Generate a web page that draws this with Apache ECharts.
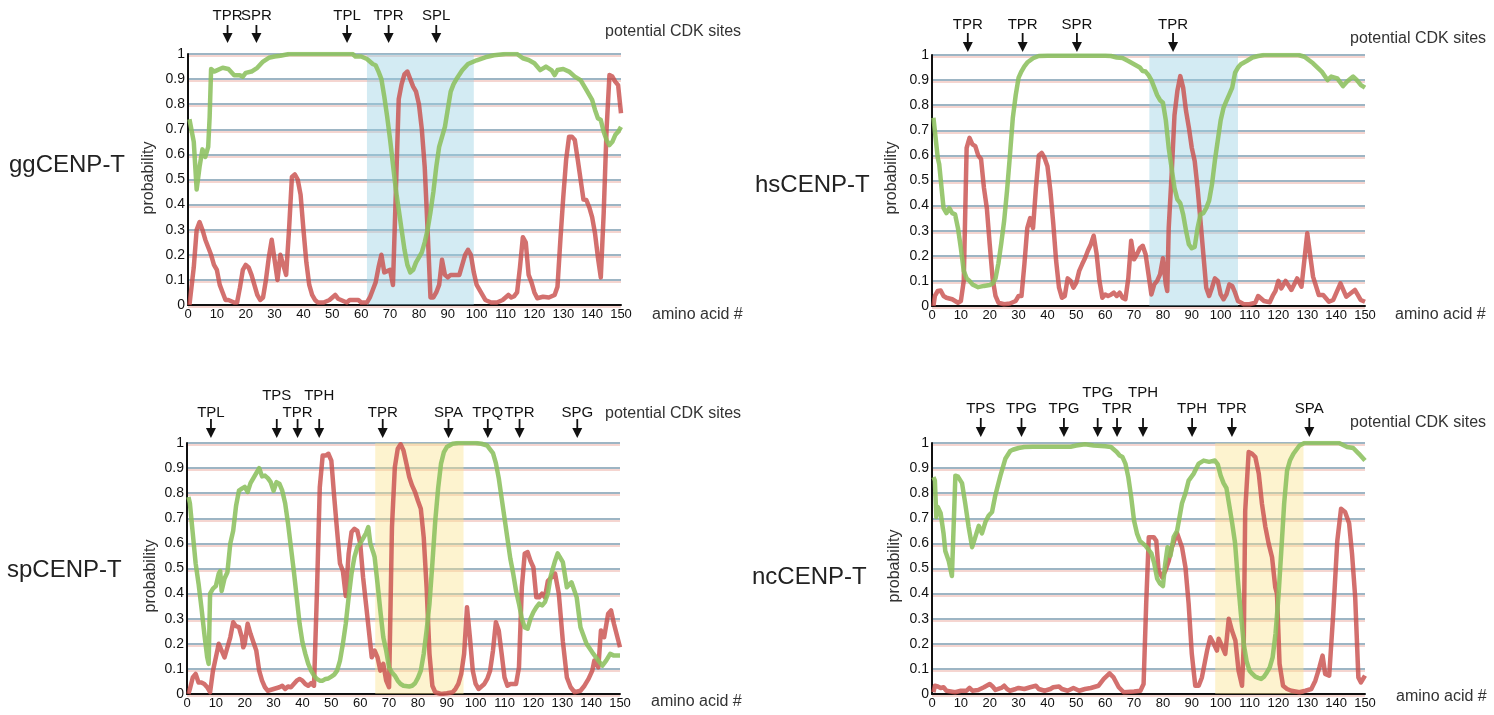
<!DOCTYPE html>
<html>
<head>
<meta charset="utf-8">
<script src="https://cdn.jsdelivr.net/npm/echarts@6/dist/echarts.min.js"></script>
<style>
  html, body { margin: 0; padding: 0; background: #fff; }
  #chart { width: 1494px; height: 715px; }
</style>
</head>
<body>
<div id="chart"></div>
<script>
// ---- values: [amino acid #, probability] ----
const ggGreen = [[0.5,0.74],[1,0.74],[2,0.65],[3,0.46],[4,0.55],[5,0.62],[6,0.59],[7,0.63],[7.5,0.75],[8,0.94],[9,0.93],[10,0.935],[12,0.945],[14,0.94],[16,0.915],[18,0.915],[19,0.91],[20,0.925],[22,0.93],[24,0.945],[26,0.97],[28,0.985],[30,0.99],[32,0.993],[35,1],[57,1],[58,0.99],[60,0.99],[62,0.98],[64,0.96],[65,0.955],[66,0.93],[67,0.9],[68,0.83],[69,0.75],[70,0.66],[71,0.56],[72,0.46],[73,0.38],[74,0.3],[75,0.22],[76,0.16],[77,0.13],[78,0.14],[79,0.17],[80,0.19],[81,0.21],[82,0.25],[83,0.3],[84,0.37],[85,0.45],[86,0.55],[87,0.63],[88,0.67],[89,0.71],[90,0.78],[91,0.85],[92,0.88],[93,0.9],[95,0.935],[97,0.96],[100,0.975],[103,0.987],[106,0.995],[110,1],[114,1],[116,0.983],[118,0.976],[120,0.963],[122,0.936],[124,0.95],[126,0.935],[127,0.916],[128,0.936],[130,0.94],[132,0.93],[134,0.91],[136,0.896],[138,0.857],[140,0.817],[141,0.777],[142,0.744],[143,0.737],[144,0.69],[145,0.657],[146,0.637],[147,0.65],[148,0.677],[149,0.69],[150,0.71]];
const ggRed = [[0.5,0],[1,0],[2,0.15],[3,0.3],[4,0.33],[5,0.3],[6,0.26],[7,0.23],[8,0.2],[9,0.16],[10,0.14],[11,0.08],[12,0.05],[13,0.02],[14,0.02],[16,0.01],[17,0.01],[18,0.07],[19,0.14],[20,0.16],[21,0.15],[22,0.12],[23,0.08],[24,0.04],[25,0.02],[26,0.03],[27,0.1],[28,0.19],[29,0.26],[30,0.18],[31,0.1],[32,0.2],[33,0.16],[34,0.12],[35,0.3],[36,0.51],[37,0.52],[38,0.5],[39,0.44],[40,0.3],[41,0.17],[42,0.08],[43,0.04],[44,0.02],[45,0.01],[47,0.01],[49,0.02],[51,0.04],[52,0.025],[53,0.02],[55,0.01],[56,0.02],[57,0.02],[59,0.02],[60,0.01],[62,0.01],[63,0.03],[64,0.06],[65,0.09],[66,0.15],[67,0.2],[68,0.13],[69,0.135],[70,0.14],[71,0.08],[72,0.45],[73,0.82],[74,0.88],[75,0.92],[76,0.93],[77,0.9],[78,0.87],[79,0.85],[80,0.8],[81,0.7],[82,0.55],[83,0.3],[84,0.03],[85,0.03],[86,0.05],[87,0.08],[88,0.18],[89,0.12],[90,0.11],[91,0.12],[94,0.12],[95,0.16],[96,0.2],[97,0.22],[98,0.2],[99,0.13],[100,0.08],[101,0.06],[102,0.04],[103,0.02],[105,0.01],[107,0.01],[109,0.02],[110,0.03],[111,0.04],[112,0.03],[113,0.035],[114,0.05],[115,0.15],[116,0.27],[117,0.25],[118,0.12],[119,0.09],[120,0.05],[121,0.027],[123,0.033],[125,0.03],[127,0.04],[128,0.073],[129,0.26],[130,0.43],[131,0.58],[132,0.67],[133,0.67],[134,0.657],[135,0.58],[136,0.5],[137,0.42],[138,0.418],[139,0.39],[140,0.35],[141,0.285],[142,0.19],[143,0.11],[144,0.365],[145,0.7],[146,0.916],[147,0.91],[148,0.89],[149,0.876],[150,0.764]];

const hsGreen = [[0.5,0.75],[1,0.744],[2,0.59],[2.5,0.565],[3,0.57],[4,0.39],[5,0.37],[6,0.39],[7,0.37],[8,0.365],[9,0.31],[10,0.23],[11,0.14],[12,0.11],[13,0.1],[14,0.086],[16,0.075],[18,0.08],[20,0.084],[21,0.09],[22,0.11],[23,0.17],[24,0.25],[25,0.34],[26,0.46],[27,0.6],[28,0.75],[29,0.84],[30,0.91],[31,0.935],[32,0.955],[33,0.97],[35,0.987],[37,0.996],[40,0.997],[60,0.997],[62,0.996],[64,0.99],[66,0.988],[68,0.976],[70,0.963],[72,0.95],[73,0.936],[74,0.934],[75,0.92],[76,0.9],[77,0.87],[78,0.84],[79,0.82],[80,0.81],[81,0.74],[82,0.63],[83,0.55],[84,0.47],[85,0.425],[86,0.41],[87,0.365],[88,0.3],[89,0.245],[90,0.23],[91,0.235],[92,0.31],[93,0.365],[94,0.37],[95,0.39],[96,0.42],[97,0.485],[98,0.58],[99,0.66],[100,0.74],[101,0.79],[102,0.817],[103,0.843],[104,0.87],[105,0.93],[106,0.95],[107,0.963],[109,0.976],[111,0.99],[113,0.996],[115,1],[127,1],[129,0.993],[132,0.967],[135,0.934],[137,0.9],[138.3,0.914],[140.4,0.907],[142.4,0.876],[143.8,0.894],[145.9,0.914],[147.2,0.9],[148.6,0.88],[150,0.87]];
const hsRed = [[0.5,0],[1,0.04],[2,0.06],[3,0.062],[4,0.04],[5,0.033],[7,0.027],[9,0.013],[10,0.02],[11,0.1],[12,0.63],[13,0.67],[14,0.644],[15,0.637],[16,0.6],[17,0.585],[18,0.47],[19,0.39],[20,0.245],[21,0.11],[22,0.04],[23,0.013],[25,0.007],[27,0.01],[29,0.02],[30,0.04],[31,0.04],[32,0.166],[33,0.31],[34,0.35],[35,0.31],[36,0.47],[37,0.6],[38,0.61],[39,0.59],[40,0.557],[41,0.46],[42,0.33],[43,0.18],[44,0.073],[45,0.033],[46,0.04],[47,0.11],[48,0.1],[49,0.073],[50,0.093],[51,0.14],[52,0.166],[53,0.19],[54,0.22],[55,0.245],[56,0.28],[57,0.21],[58,0.1],[59,0.033],[60,0.046],[61,0.04],[62,0.045],[63,0.053],[64,0.04],[65,0.053],[66,0.033],[67,0.027],[68,0.11],[69,0.26],[70,0.186],[71,0.206],[72,0.23],[73,0.24],[74,0.206],[75,0.126],[76,0.046],[77,0.086],[78,0.1],[79,0.126],[80,0.19],[81,0.086],[81.5,0.06],[82,0.31],[83,0.52],[84,0.76],[85,0.857],[86,0.916],[87,0.87],[88,0.777],[89,0.71],[90,0.63],[91,0.578],[92,0.47],[93,0.34],[94,0.206],[95,0.073],[96,0.04],[97,0.073],[98,0.11],[99,0.1],[100,0.046],[101,0.027],[102,0.046],[103,0.086],[104,0.08],[105,0.053],[106,0.02],[108,0.007],[110,0.007],[112,0.013],[113,0.04],[114,0.03],[115,0.02],[117,0.015],[118,0.04],[119,0.06],[120,0.1],[121,0.07],[122.5,0.1],[124.5,0.064],[126.5,0.11],[128,0.077],[130,0.29],[132,0.117],[134,0.044],[135.5,0.044],[137.5,0.017],[139,0.024],[141.5,0.09],[143.5,0.037],[146.5,0.064],[148.5,0.024],[150,0.017]];

const spGreen = [[0.5,0.785],[1,0.76],[2,0.64],[3,0.52],[4,0.44],[5,0.345],[6,0.24],[7,0.146],[7.5,0.12],[8,0.4],[9,0.42],[10,0.43],[11,0.48],[11.5,0.49],[12,0.41],[13,0.46],[14,0.485],[15,0.6],[16,0.65],[17,0.75],[18,0.81],[19,0.818],[20,0.825],[21,0.805],[22,0.84],[23,0.86],[24,0.88],[25,0.9],[26,0.867],[27,0.87],[28,0.86],[29,0.844],[30,0.81],[31,0.844],[32,0.838],[33,0.81],[34,0.76],[35,0.68],[36,0.585],[37,0.49],[38,0.385],[39,0.28],[40,0.206],[41,0.16],[42,0.12],[43,0.093],[44,0.073],[45,0.06],[46,0.053],[47,0.053],[48,0.06],[49,0.062],[50,0.069],[51,0.077],[52,0.093],[53,0.133],[54,0.2],[55,0.28],[56,0.385],[57,0.48],[58,0.545],[59,0.585],[60,0.6],[61,0.62],[62,0.64],[62.8,0.665],[63.5,0.6],[64.5,0.565],[65,0.545],[66,0.44],[67,0.33],[68,0.226],[69,0.173],[70,0.106],[71,0.086],[72,0.073],[73,0.053],[74,0.04],[75,0.033],[77,0.03],[78,0.033],[79,0.043],[80,0.064],[81,0.093],[82,0.16],[83,0.253],[84,0.36],[85,0.52],[86,0.69],[87,0.82],[88,0.918],[89,0.964],[90,0.984],[92,0.997],[94,1],[100,1],[102,0.997],[104,0.99],[105,0.975],[106,0.96],[107,0.92],[108,0.86],[109,0.78],[110,0.7],[111,0.62],[112,0.54],[113,0.48],[114,0.41],[115,0.36],[116,0.3],[117,0.265],[118,0.26],[119,0.3],[120,0.326],[121,0.345],[122,0.36],[123,0.353],[124,0.366],[125,0.4],[126,0.47],[127.5,0.53],[128.4,0.56],[130.2,0.525],[131.6,0.425],[133.2,0.445],[135,0.385],[136.3,0.266],[138.4,0.2],[140.4,0.166],[142.5,0.133],[143.9,0.113],[145.2,0.133],[146.6,0.16],[147.9,0.153],[150,0.153]];
const spRed = [[0.5,0],[1,0.02],[2,0.066],[3,0.08],[4,0.046],[5,0.046],[6,0.04],[7,0.027],[8,0.007],[9,0.093],[10,0.146],[11,0.2],[12,0.173],[13,0.146],[14,0.186],[15,0.226],[16,0.286],[17,0.27],[18,0.266],[19,0.226],[19.5,0.186],[20,0.2],[21,0.28],[22,0.24],[23,0.206],[24,0.173],[25,0.093],[26,0.053],[27,0.027],[28,0.013],[30,0.02],[32,0.027],[33,0.033],[34,0.02],[35,0.03],[36,0.027],[37,0.04],[38,0.053],[39,0.06],[40,0.053],[41,0.04],[42,0.033],[43,0.043],[44,0.033],[45,0.4],[46,0.824],[47,0.95],[48,0.95],[49,0.957],[50,0.93],[51,0.785],[52,0.65],[53,0.52],[54,0.49],[55,0.39],[56,0.56],[57,0.645],[58,0.658],[59,0.65],[60,0.6],[61,0.465],[62,0.36],[63,0.253],[64,0.146],[65,0.173],[66,0.146],[67,0.093],[68,0.12],[69,0.053],[70,0.027],[71,0.665],[72,0.904],[73,0.977],[74,0.995],[75,0.97],[76,0.918],[77,0.864],[78,0.83],[79,0.805],[80,0.77],[81,0.738],[82,0.625],[83,0.426],[84,0.16],[85,0.033],[86,0.007],[88,0],[90,0.003],[92,0.007],[93,0.02],[94,0.04],[95,0.08],[96,0.16],[97,0.346],[98,0.226],[99,0.093],[100,0.04],[101,0.02],[102,0.03],[103,0.04],[104,0.06],[105,0.093],[106,0.173],[107,0.286],[108,0.253],[109,0.16],[110,0.066],[111,0.033],[112,0.04],[114,0.04],[115,0.106],[116,0.426],[117,0.56],[118,0.565],[119,0.53],[120,0.505],[121,0.385],[122,0.385],[123,0.4],[124,0.385],[125,0.45],[127.5,0.48],[128.8,0.4],[130.2,0.21],[131.6,0.066],[132.9,0.027],[134.3,0.007],[136.3,0.013],[137.7,0.033],[139.1,0.06],[140.4,0.093],[141.1,0.133],[142.5,0.106],[143.4,0.253],[144.5,0.226],[145.9,0.32],[146.9,0.333],[147.9,0.28],[150,0.186]];

const ncGreen = [[0.5,0.864],[1,0.85],[1.5,0.705],[2,0.745],[3,0.72],[4,0.64],[4.6,0.57],[5.8,0.53],[6.9,0.47],[8.1,0.87],[9,0.866],[10.4,0.84],[11.5,0.76],[12.7,0.665],[13.9,0.585],[15,0.625],[16.2,0.67],[17.3,0.64],[18.5,0.685],[19.6,0.71],[20.8,0.725],[21.9,0.79],[23.7,0.87],[25.4,0.937],[27.1,0.968],[28,0.973],[30,0.98],[32,0.984],[35,0.985],[48,0.985],[50,0.99],[53,0.995],[56,0.99],[60,0.987],[62,0.984],[64,0.964],[65,0.95],[66,0.944],[67,0.918],[68,0.864],[69,0.785],[70,0.69],[71,0.64],[72,0.61],[73,0.6],[74,0.59],[75,0.575],[76,0.56],[77,0.52],[78,0.46],[79,0.44],[80,0.43],[80.8,0.52],[81.6,0.585],[82.6,0.55],[83.7,0.625],[84.9,0.65],[86.6,0.76],[87.8,0.8],[88.9,0.85],[90.6,0.877],[92.4,0.918],[94.1,0.93],[96,0.925],[98,0.93],[99,0.915],[100,0.87],[101,0.84],[102,0.82],[103,0.75],[104,0.68],[105,0.6],[106,0.45],[107,0.32],[108,0.2],[109,0.13],[110,0.093],[111,0.08],[112,0.069],[113,0.064],[114,0.06],[115,0.069],[116,0.086],[117,0.106],[118,0.146],[119,0.24],[120,0.385],[121,0.57],[122,0.76],[123,0.89],[124,0.93],[125.2,0.957],[127.3,0.99],[129,1],[141,1],[143.8,0.984],[145.9,0.98],[147.9,0.957],[150,0.93]];
const ncRed = [[0.5,0.007],[1,0.033],[2,0.03],[3,0.024],[4,0.027],[5,0.013],[6,0.011],[8,0.007],[10,0.013],[12,0.013],[13,0.024],[14,0.013],[16,0.016],[18,0.027],[20,0.04],[21,0.03],[22,0.016],[24,0.024],[25,0.033],[26,0.02],[27,0.013],[29,0.02],[30,0.024],[32,0.02],[34,0.027],[36,0.033],[37,0.02],[39,0.013],[41,0.02],[42,0.027],[44,0.03],[45,0.02],[47,0.013],[49,0.024],[51,0.013],[53,0.02],[55,0.024],[57.7,0.033],[59.5,0.06],[61.5,0.082],[62.9,0.066],[64.7,0.027],[66.4,0.007],[70,0.01],[72.2,0.013],[73.3,0.04],[74.2,0.36],[75.1,0.625],[76.8,0.625],[77.7,0.61],[78.5,0.49],[79.7,0.465],[80.8,0.49],[82,0.53],[83.1,0.585],[84.9,0.64],[86.6,0.585],[87.8,0.505],[88.9,0.36],[90,0.16],[91.2,0.033],[92.4,0.033],[93.5,0.066],[95.3,0.173],[96.4,0.226],[97.6,0.2],[98.7,0.173],[99.3,0.22],[100.5,0.19],[101.6,0.16],[102.8,0.3],[103.9,0.253],[105.1,0.213],[106.2,0.093],[107.4,0.033],[108,0.2],[108.5,0.73],[109.7,0.964],[110.9,0.957],[112,0.944],[113.2,0.878],[114.3,0.758],[115.5,0.665],[116.6,0.6],[117.8,0.545],[118.9,0.426],[119.5,0.4],[120.4,0.12],[121.6,0.033],[123,0.02],[124.5,0.013],[127.3,0.007],[129.4,0.013],[131.4,0.02],[132.8,0.053],[134.2,0.106],[135.3,0.153],[136.2,0.08],[137.6,0.073],[139,0.32],[140.4,0.61],[141.7,0.738],[143.1,0.725],[144.5,0.68],[145.5,0.56],[146.6,0.386],[147.7,0.066],[148.6,0.046],[150,0.073]];

// shaded regions [from, to]
const ggBand = [62, 99];
const hsBand = [75.3, 106];
const spBand = [65.2, 95.8];
const ncBand = [98.1, 128.7];

// potential CDK sites: [position, label, row (0 = lower, 1 = upper)]
const ggSites = [[13.7,'TPR',0],[23.7,'SPR',0],[55.1,'TPL',0],[69.5,'TPR',0],[86,'SPL',0]];
const hsSites = [[12.4,'TPR',0],[31.4,'TPR',0],[50.2,'SPR',0],[83.5,'TPR',0]];
const spSites = [[8.3,'TPL',0],[31.1,'TPS',1],[38.3,'TPR',0],[45.8,'TPH',1],[67.8,'TPR',0],[90.6,'SPA',0],[104.2,'TPQ',0],[115.2,'TPR',0],[135.2,'SPG',0]];
const ncSites = [[16.9,'TPS',0],[31,'TPG',0],[45.7,'TPG',0],[57.4,'TPG',1],[64.1,'TPR',0],[73.1,'TPH',1],[90.1,'TPH',0],[103.9,'TPR',0],[130.7,'SPA',0]];

const FONT = '"Liberation Sans", Arial, Helvetica, sans-serif';
const RED = '#c9514e';
const GREEN = '#8cc05e';
const BLUE_BAND = 'rgba(150,208,226,0.42)';
const YELLOW_BAND = 'rgba(250,226,140,0.42)';

const panels = [
  { name: 'ggCENP-T', title: [9, 167], left: 188, top: 54, green: ggGreen, red: ggRed, band: ggBand, bandColor: BLUE_BAND,
    sites: ggSites, arrow: { tip: 11, top: 29, label: 38, upper: 55 }, prob: [149, 178], cdk: [605, 32], amino: [652, 315] },
  { name: 'hsCENP-T', title: [755, 187], left: 932, top: 55, green: hsGreen, red: hsRed, band: hsBand, bandColor: BLUE_BAND,
    sites: hsSites, arrow: { tip: 3, top: 22, label: 30, upper: 47 }, prob: [892, 178], cdk: [1350, 39], amino: [1395, 315] },
  { name: 'spCENP-T', title: [7, 572], left: 187, top: 443, green: spGreen, red: spRed, band: spBand, bandColor: YELLOW_BAND,
    sites: spSites, arrow: { tip: 5, top: 24, label: 30, upper: 47 }, prob: [151, 576], cdk: [605, 414], amino: [651, 702] },
  { name: 'ncCENP-T', title: [752, 579], left: 932, top: 443, green: ncGreen, red: ncRed, band: ncBand, bandColor: YELLOW_BAND,
    sites: ncSites, arrow: { tip: 6, top: 25, label: 34, upper: 50 }, prob: [895, 566], cdk: [1350, 423], amino: [1396, 697] }
];

const chart = echarts.init(document.getElementById('chart'), null, { renderer: 'canvas' });

const grids = [], xAxes = [], yAxes = [], series = [], graphics = [];

panels.forEach((p, i) => {
  grids.push({ left: p.left, top: p.top, width: 433, height: 251 });
  xAxes.push({
    type: 'value', gridIndex: i, min: 0, max: 150, interval: 10,
    axisLine: { show: true, lineStyle: { color: '#111', width: 2 } },
    axisTick: { show: false },
    splitLine: { show: false },
    axisLabel: { color: '#111', fontSize: 13, fontFamily: FONT, margin: 3 }
  });
  yAxes.push({
    type: 'value', gridIndex: i, min: 0, max: 1, interval: 0.1,
    axisLine: { show: true, lineStyle: { color: '#111', width: 2 } },
    axisTick: { show: false },
    splitLine: {
      show: true,
      lineStyle: { color: '#7d9db1', width: 1.6, shadowColor: 'rgba(232,160,150,0.6)', shadowOffsetY: 2, shadowBlur: 0 }
    },
    axisLabel: { color: '#111', fontSize: 14, fontFamily: FONT, margin: 3 }
  });

  series.push({
    type: 'line', xAxisIndex: i, yAxisIndex: i, data: p.red, symbol: 'none', smooth: false,
    lineStyle: { color: RED, width: 4.5, opacity: 0.82, join: 'round' },
    markArea: {
      silent: true,
      itemStyle: { color: p.bandColor },
      data: [[{ xAxis: p.band[0], yAxis: 0 }, { xAxis: p.band[1], yAxis: 1 }]]
    },
    z: 3
  });
  series.push({
    type: 'line', xAxisIndex: i, yAxisIndex: i, data: p.green, symbol: 'none', smooth: false,
    lineStyle: { color: GREEN, width: 4.5, opacity: 0.88, join: 'round' },
    z: 4
  });

  // arrows and site labels above the plot
  const a = p.arrow;
  series.push({
    type: 'custom', xAxisIndex: i, yAxisIndex: i, clip: false, silent: true,
    data: p.sites.map(s => [s[0], 1]),
    renderItem: (params, api) => {
      const s = p.sites[params.dataIndex];
      const pt = api.coord([api.value(0), 1]);
      const x = pt[0], y = pt[1];
      return {
        type: 'group',
        children: [
          { type: 'line', shape: { x1: x, y1: y - a.top, x2: x, y2: y - a.tip - 6 }, style: { stroke: '#111', lineWidth: 1.8 } },
          { type: 'polygon', shape: { points: [[x - 5, y - a.tip - 10], [x + 5, y - a.tip - 10], [x, y - a.tip]] }, style: { fill: '#111' } },
          { type: 'text', style: { text: s[1], x: x, y: y - (s[2] ? a.upper : a.label), align: 'center', verticalAlign: 'middle',
              fontSize: 15, fontFamily: FONT, fill: '#111' } }
        ]
      };
    },
    z: 5
  });

  graphics.push(
    { type: 'text', left: p.title[0], top: p.title[1] - 14,
      style: { text: p.name, fontSize: 24, fontFamily: FONT, fill: '#222' } },
    { type: 'text', x: p.prob[0], y: p.prob[1], rotation: Math.PI / 2,
      style: { text: 'probability', fontSize: 16, fontFamily: FONT, fill: '#333', align: 'center', verticalAlign: 'middle' } },
    { type: 'text', x: p.cdk[0], y: p.cdk[1],
      style: { text: 'potential CDK sites', fontSize: 16, fontFamily: FONT, fill: '#333', align: 'left', verticalAlign: 'middle' } },
    { type: 'text', x: p.amino[0], y: p.amino[1],
      style: { text: 'amino acid #', fontSize: 16, fontFamily: FONT, fill: '#333', align: 'left', verticalAlign: 'middle' } }
  );
});

chart.setOption({
  animation: false,
  backgroundColor: '#fff',
  grid: grids,
  xAxis: xAxes,
  yAxis: yAxes,
  series: series,
  graphic: graphics
});
</script>
</body>
</html>
